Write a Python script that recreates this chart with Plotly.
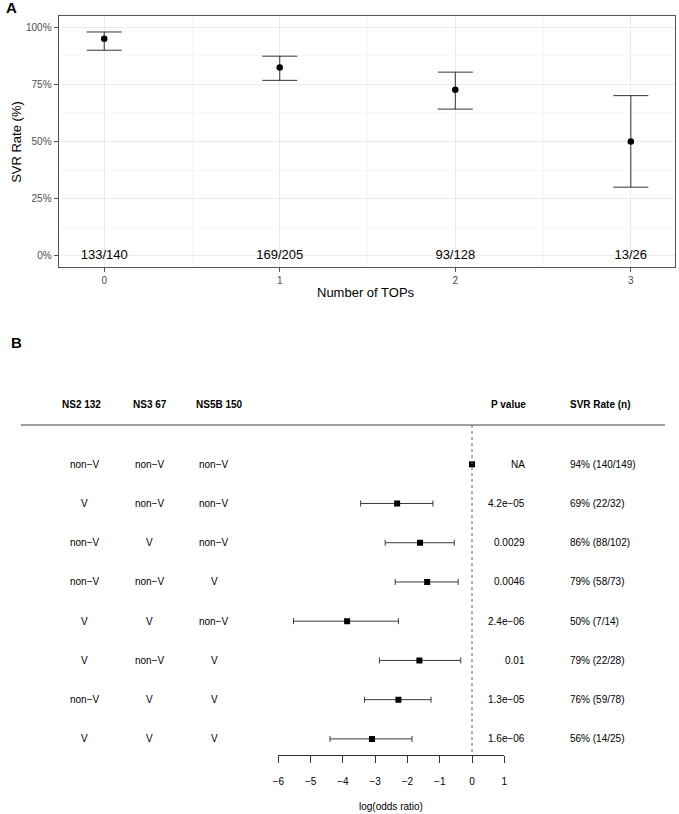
import plotly.graph_objects as go

W, H = 679, 814

# ---------------- Panel A data ----------------
tops = [0, 1, 2, 3]
svr_rate = [95.0, 82.4, 72.7, 50.0]
svr_low = [90.0, 76.8, 64.2, 30.0]
svr_high = [98.0, 87.4, 80.4, 70.1]
count_labels = ["133/140", "169/205", "93/128", "13/26"]
y_ticks = [0, 25, 50, 75, 100]
y_tick_labels = ["0%", "25%", "50%", "75%", "100%"]

# ---------------- Panel B data ----------------
ns2_132 = ["non−V", "V", "non−V", "non−V", "V", "V", "non−V", "V"]
ns3_67 = ["non−V", "non−V", "V", "non−V", "V", "non−V", "V", "V"]
ns5b_150 = ["non−V", "non−V", "non−V", "V", "non−V", "V", "V", "V"]
log_or = [0.0, -2.32, -1.61, -1.39, -3.87, -1.63, -2.28, -3.10]
or_low = [0.0, -3.45, -2.69, -2.38, -5.53, -2.87, -3.33, -4.40]
or_high = [0.0, -1.21, -0.55, -0.43, -2.28, -0.35, -1.27, -1.86]
p_values = ["NA", "4.2e−05", "0.0029", "0.0046", "2.4e−06", "0.01", "1.3e−05", "1.6e−06"]
svr_n = ["94% (140/149)", "69% (22/32)", "86% (88/102)", "79% (58/73)",
         "50% (7/14)", "79% (22/28)", "76% (59/78)", "56% (14/25)"]
or_ticks = [-6, -5, -4, -3, -2, -1, 0, 1]
headers = ["NS2 132", "NS3 67", "NS5B 150"]

rows = list(range(1, len(log_or) + 1))

FONT = "Liberation Sans, Arial, Helvetica, sans-serif"


def px(x):
    return x / W


def py(y):
    return 1 - y / H


fig = go.Figure()

# Panel A
fig.add_trace(go.Scatter(
    x=tops, y=svr_rate, mode="markers",
    marker=dict(color="black", size=6.5),
    error_y=dict(type="data", symmetric=False,
                 array=[h - v for h, v in zip(svr_high, svr_rate)],
                 arrayminus=[v - l for v, l in zip(svr_rate, svr_low)],
                 color="#333333", thickness=1, width=17.5),
    xaxis="x", yaxis="y", showlegend=False, hoverinfo="skip"))

fig.add_trace(go.Scatter(
    x=tops, y=[0] * len(tops), mode="text", text=count_labels,
    textfont=dict(size=13, color="black", family=FONT),
    textposition="middle center",
    xaxis="x", yaxis="y", showlegend=False, hoverinfo="skip"))

# Panel B forest
fig.add_trace(go.Scatter(
    x=log_or, y=rows, mode="markers",
    marker=dict(color="black", size=6, symbol="square"),
    error_x=dict(type="data", symmetric=False,
                 array=[h - v for h, v in zip(or_high, log_or)],
                 arrayminus=[v - l for v, l in zip(log_or, or_low)],
                 color="#3a3a3a", thickness=1, width=3),
    xaxis="x2", yaxis="y2", showlegend=False, hoverinfo="skip"))

annotations = []

# Panel labels
annotations.append(dict(x=px(5.5), y=py(7), xref="paper", yref="paper", text="<b>A</b>",
                        showarrow=False, xanchor="center", yanchor="middle",
                        font=dict(size=15, color="black", family=FONT)))
annotations.append(dict(x=px(10.3), y=py(342.5), xref="paper", yref="paper", text="<b>B</b>",
                        showarrow=False, xanchor="center", yanchor="middle",
                        font=dict(size=15, color="black", family=FONT)))

# Panel A titles
annotations.append(dict(x=px(365), y=py(292), xref="paper", yref="paper", text="Number of TOPs",
                        showarrow=False, xanchor="center", yanchor="middle",
                        font=dict(size=13, color="black", family=FONT)))
annotations.append(dict(x=px(10), y=py(142), xref="paper", yref="paper", text="SVR Rate (%)",
                        showarrow=False, xanchor="center", yanchor="middle", textangle=-90,
                        font=dict(size=13, color="black", family=FONT)))

# Panel B headers
header_x = [77, 146, 216.5]
for hx, ht in zip(header_x, headers):
    annotations.append(dict(x=px(hx), y=py(404), xref="paper", yref="paper", text=f"<b>{ht}</b>",
                            showarrow=False, xanchor="center", yanchor="middle",
                            font=dict(size=10, color="black", family=FONT)))
annotations.append(dict(x=px(529), y=py(404), xref="paper", yref="paper", text="<b>P value</b>",
                        showarrow=False, xanchor="right", yanchor="middle",
                        font=dict(size=10, color="black", family=FONT)))
annotations.append(dict(x=px(570), y=py(404), xref="paper", yref="paper", text="<b>SVR Rate (n)</b>",
                        showarrow=False, xanchor="left", yanchor="middle",
                        font=dict(size=10, color="black", family=FONT)))

# Panel B row texts
col_x = [80, 145.7, 211]
for r, a, b, c, p, s in zip(rows, ns2_132, ns3_67, ns5b_150, p_values, svr_n):
    for cx, t in zip(col_x, [a, b, c]):
        annotations.append(dict(x=px(cx), y=r, xref="paper", yref="y2", text=t,
                                showarrow=False, xanchor="center", yanchor="middle",
                                font=dict(size=10, color="black", family=FONT)))
    annotations.append(dict(x=px(528.5), y=r, xref="paper", yref="y2", text=p,
                            showarrow=False, xanchor="right", yanchor="middle",
                            font=dict(size=10, color="black", family=FONT)))
    annotations.append(dict(x=px(570), y=r, xref="paper", yref="y2", text=s,
                            showarrow=False, xanchor="left", yanchor="middle",
                            font=dict(size=10, color="black", family=FONT)))

annotations.append(dict(x=px(390.5), y=py(806), xref="paper", yref="paper", text="log(odds ratio)",
                        showarrow=False, xanchor="center", yanchor="middle",
                        font=dict(size=10, color="black", family=FONT)))

shapes = [
    dict(type="line", xref="paper", yref="paper", x0=px(15), x1=px(668), y0=py(425), y1=py(425),
         line=dict(color="#444444", width=1)),
    dict(type="line", xref="x2", yref="y2", x0=0, x1=0, y0=0, y1=8.41,
         line=dict(color="#666666", width=1, dash="dot")),
]

fig.update_layout(
    width=W, height=H, autosize=False,
    margin=dict(l=0, r=0, t=0, b=0),
    paper_bgcolor="white", plot_bgcolor="white",
    font=dict(family=FONT),
    annotations=annotations, shapes=shapes,
    xaxis=dict(domain=[px(53.3), px(677.7)], range=[-0.26, 3.25], anchor="y",
               tickvals=tops, ticktext=[str(t) for t in tops],
               showgrid=True, gridcolor="#ebebeb", gridwidth=1,
               minor=dict(dtick=0.5, tick0=0, showgrid=True, gridcolor="#f4f4f4", gridwidth=0.6),
               zeroline=False, showline=True, mirror=True, linecolor="#555555", linewidth=1,
               ticks="outside", ticklen=4, tickcolor="#555555",
               tickfont=dict(size=10, color="#4d4d4d", family=FONT)),
    yaxis=dict(domain=[py(267), py(16)], range=[-5, 105], anchor="x",
               tickvals=y_ticks, ticktext=y_tick_labels,
               showgrid=True, gridcolor="#ebebeb", gridwidth=1,
               minor=dict(dtick=12.5, tick0=0, showgrid=True, gridcolor="#f4f4f4", gridwidth=0.6),
               zeroline=False, showline=True, mirror=True, linecolor="#555555", linewidth=1,
               ticks="outside", ticklen=4, tickcolor="#555555",
               tickfont=dict(size=10, color="#4d4d4d", family=FONT)),
    xaxis2=dict(domain=[px(276), px(505)], range=[-6, 1], anchor="y2",
                tickvals=or_ticks, showgrid=False, zeroline=False,
                showline=True, linecolor="#333333", linewidth=1,
                ticks="outside", ticklen=7, tickcolor="#333333",
                ticklabelstandoff=10,
                tickfont=dict(size=10, color="black", family=FONT)),
    yaxis2=dict(domain=[py(755), py(425)], range=[8.41, 0.0], anchor="x2",
                showgrid=False, zeroline=False, showline=False, showticklabels=False,
                ticks=""),
)

fig.write_html("out.html",
               config={"displayModeBar": False, "staticPlot": True},
               post_script="document.body.style.margin='0';document.body.style.padding='0';")
